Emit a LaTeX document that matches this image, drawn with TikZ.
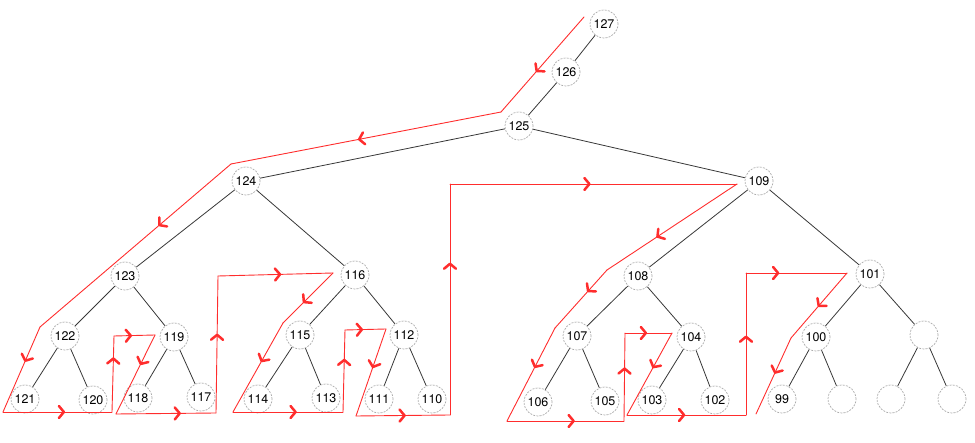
\documentclass[tikz,border=0pt]{standalone}
\usepackage{fontspec}
\setmainfont{TeX Gyre Heros}
\usetikzlibrary{arrows.meta, decorations.markings}
\definecolor{walkred}{RGB}{255,45,45}
\definecolor{edgegray}{RGB}{55,55,55}

\begin{document}
\begin{tikzpicture}[x=1pt, y=-1pt,
    treenode/.style={circle, draw=gray!65, dash pattern=on 2pt off 1.2pt,
                     line width=0.7pt, fill=white, minimum size=28pt, inner sep=0pt,
                     font=\fontsize{12.5}{14}\selectfont},
    branch/.style={draw=edgegray, line width=0.8pt},
    walk/.style={draw=walkred, line width=0.9pt, line cap=round,
                 postaction={decorate, decoration={markings,
                   mark=at position #1 with {\arrow[walkred]{>}}}}},
    >={Straight Barb[length=5pt, width=12pt, line width=2.5pt, round]},
]
\useasboundingbox (0,0) rectangle (975,443);
\node[treenode] (n127) at (604,24) {127};
\node[treenode] (n126) at (566,72) {126};
\node[treenode] (n125) at (519,126) {125};
\node[treenode] (n124) at (246,181) {124};
\node[treenode] (n109) at (759,181) {109};
\node[treenode] (n123) at (125,276) {123};
\node[treenode] (n116) at (355,275) {116};
\node[treenode] (n108) at (638,276) {108};
\node[treenode] (n101) at (870,274) {101};
\node[treenode] (n122) at (65,336) {122};
\node[treenode] (n119) at (174,337) {119};
\node[treenode] (n115) at (300,335) {115};
\node[treenode] (n112) at (404,335) {112};
\node[treenode] (n107) at (577,336) {107};
\node[treenode] (n104) at (691,337) {104};
\node[treenode] (n100) at (816,337) {100};
\node[treenode] (e1)   at (924,335) {};
\node[treenode] (n121) at (25,399) {121};
\node[treenode] (n120) at (93,400) {120};
\node[treenode] (n118) at (138,398) {118};
\node[treenode] (n117) at (201,397) {117};
\node[treenode] (n114) at (258,399) {114};
\node[treenode] (n113) at (326,398) {113};
\node[treenode] (n111) at (379,399) {111};
\node[treenode] (n110) at (432,399) {110};
\node[treenode] (n106) at (538,402) {106};
\node[treenode] (n105) at (605,401) {105};
\node[treenode] (n103) at (652,400) {103};
\node[treenode] (n102) at (715,400) {102};
\node[treenode] (n99)  at (782,399) {99};
\node[treenode] (e2)   at (842,399) {};
\node[treenode] (e3)   at (891,399) {};
\node[treenode] (e4)   at (952,399) {};
\foreach \a/\b in {n127/n126, n126/n125, n125/n124, n125/n109, n124/n123, n124/n116,
                   n123/n122, n123/n119, n122/n121, n122/n120, n119/n118, n119/n117,
                   n116/n115, n116/n112, n115/n114, n115/n113, n112/n111, n112/n110,
                   n109/n108, n109/n101, n108/n107, n108/n104, n107/n106, n107/n105,
                   n104/n103, n104/n102, n101/n100, n101/e1, n100/n99, n100/e2,
                   e1/e3, e1/e4}
  \draw[branch] (\a) -- (\b);
\path (584,17) coordinate (w0)   (501,112) coordinate (w1)  (231,164) coordinate (w2)
      (40,327) coordinate (w3)   (3,412) coordinate (w4)    (112,412) coordinate (w5)
      (114,336) coordinate (w6)  (155,335) coordinate (w7)  (116,414) coordinate (w8)
      (216,413) coordinate (w9)  (218,276) coordinate (w10) (333,273) coordinate (w11)
      (283,323) coordinate (w12) (233,412) coordinate (w13) (343,412) coordinate (w14)
      (345,330) coordinate (w15) (386,329) coordinate (w16) (356,416) coordinate (w17)
      (450,415) coordinate (w18) (450,184) coordinate (w19) (737,184) coordinate (w20)
      (607,270) coordinate (w21) (555,328) coordinate (w22) (507,421) coordinate (w23)
      (624,421) coordinate (w24) (625,333) coordinate (w25) (672,333) coordinate (w26)
      (627,415) coordinate (w27) (746,415) coordinate (w28) (746,273) coordinate (w29)
      (847,273) coordinate (w30) (791,338) coordinate (w31) (756,414) coordinate (w32);
\foreach \a/\b/\t in {0/1/.58, 1/2/.53, 2/3/.38, 3/4/.41, 4/5/.57, 5/6/.72, 6/7/.44,
                      7/8/.38, 8/9/.65, 9/10/.58, 10/11/.55, 11/12/.6, 12/13/.44,
                      13/14/.58, 14/15/.65, 15/16/.44, 16/17/.45, 17/18/.53, 18/19/.66,
                      19/20/.49, 20/21/.62, 21/22/.38, 22/23/.43, 23/24/.58, 24/25/.61,
                      25/26/.47, 26/27/.43, 27/28/.49, 28/29/.56, 29/30/.33, 30/31/.52,
                      31/32/.47}
  \draw[walk=\t] (w\a) -- (w\b);
\end{tikzpicture}
\end{document}
